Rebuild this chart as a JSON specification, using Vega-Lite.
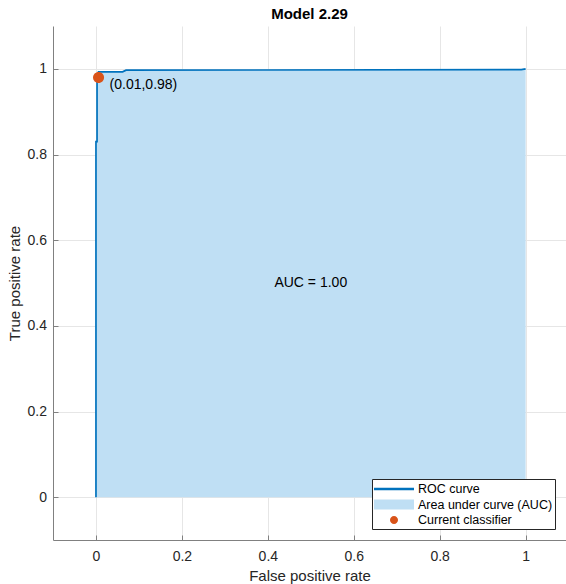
{
  "$schema": "https://vega.github.io/schema/vega-lite/v6.json",
  "autosize": "none",
  "padding": {"left": 53, "top": 26, "right": 0, "bottom": 44},
  "width": 513,
  "height": 514,
  "background": "white",
  "title": {"text": "Model 2.29", "font": "Liberation Sans", "fontSize": 15, "fontWeight": "bold", "color": "#000000", "offset": 4, "anchor": "middle"},
  "datasets": {
    "roc": [
      {"fpr": 0, "tpr": 0},
      {"fpr": 0, "tpr": 0.83},
      {"fpr": 0.0025, "tpr": 0.83},
      {"fpr": 0.0025, "tpr": 0.975},
      {"fpr": 0.006, "tpr": 0.98},
      {"fpr": 0.006, "tpr": 0.993},
      {"fpr": 0.062, "tpr": 0.993},
      {"fpr": 0.07, "tpr": 0.997},
      {"fpr": 0.99, "tpr": 0.998},
      {"fpr": 1, "tpr": 1}
    ],
    "classifier": [
      {"fpr": 0.006, "tpr": 0.98, "label": "(0.01,0.98)", "series": "Current classifier"}
    ],
    "auc": [
      {"fpr": 0.5, "tpr": 0.5, "label": "AUC = 1.00"}
    ]
  },
  "layer": [
    {
      "data": {"name": "roc"},
      "mark": {"type": "area", "color": "#BFDFF4", "opacity": 1, "interpolate": "linear"},
      "encoding": {
        "x": {"field": "fpr", "type": "quantitative", "scale": {"domain": [-0.1, 1.094], "nice": false, "zero": false},
          "axis": {"title": "False positive rate", "values": [0, 0.2, 0.4, 0.6, 0.8, 1], "format": "~g", "labelPadding": 14, "titlePadding": 5}},
        "y": {"field": "tpr", "type": "quantitative", "scale": {"domain": [-0.1, 1.1], "nice": false, "zero": false},
          "axis": {"title": "True positive rate", "values": [0, 0.2, 0.4, 0.6, 0.8, 1], "format": "~g", "labelPadding": 11.5, "titlePadding": 5}},
        "y2": {"datum": 0}
      }
    },
    {
      "data": {"name": "roc"},
      "mark": {"type": "line", "color": "#0072BD", "strokeWidth": 1.7, "interpolate": "linear"},
      "encoding": {
        "x": {"field": "fpr", "type": "quantitative"},
        "y": {"field": "tpr", "type": "quantitative"}
      }
    },
    {
      "data": {"name": "classifier"},
      "mark": {"type": "point", "filled": true, "opacity": 1, "size": 484, "strokeWidth": 0},
      "encoding": {
        "x": {"field": "fpr", "type": "quantitative"},
        "y": {"field": "tpr", "type": "quantitative"},
        "color": {"field": "series", "type": "nominal",
          "scale": {"domain": ["ROC curve", "Area under curve (AUC)", "Current classifier"], "range": ["#0072BD", "#BFDFF4", "#D95319"]},
          "legend": {"title": null}},
        "shape": {"field": "series", "type": "nominal",
          "scale": {"domain": ["ROC curve", "Area under curve (AUC)", "Current classifier"], "range": ["M-2.5,-0.16H2.5V0.16H-2.5Z", "M-2.5,-0.625H2.5V0.625H-2.5Z", "M0.5,0A0.5,0.5 0 1,1 -0.5,0A0.5,0.5 0 1,1 0.5,0Z"]},
          "legend": {"title": null}}
      }
    },
    {
      "data": {"name": "classifier"},
      "mark": {"type": "text", "align": "left", "baseline": "middle", "dx": 11, "dy": 8, "font": "Liberation Sans", "fontSize": 14, "color": "#000000"},
      "encoding": {
        "x": {"field": "fpr", "type": "quantitative"},
        "y": {"field": "tpr", "type": "quantitative"},
        "text": {"field": "label"}
      }
    },
    {
      "data": {"name": "auc"},
      "mark": {"type": "text", "align": "center", "baseline": "middle", "font": "Liberation Sans", "fontSize": 14, "color": "#000000"},
      "encoding": {
        "x": {"field": "fpr", "type": "quantitative"},
        "y": {"field": "tpr", "type": "quantitative"},
        "text": {"field": "label"}
      }
    }
  ],
  "config": {
    "view": {"stroke": null},
    "axis": {
      "grid": true,
      "gridColor": "#e6e6e6",
      "gridWidth": 1,
      "domainColor": "#808080",
      "domainWidth": 1,
      "tickColor": "#808080",
      "tickSize": -5,
      "labelFont": "Liberation Sans",
      "labelFontSize": 14,
      "labelColor": "#262626",
      "titleFont": "Liberation Sans",
      "titleFontSize": 15,
      "titleFontWeight": "normal",
      "titleColor": "#262626"
    },
    "legend": {
      "orient": "bottom-right",
      "offset": 11,
      "padding": 2,
      "strokeColor": "#262626",
      "fillColor": "white",
      "symbolSize": 256,
      "symbolStrokeWidth": 0,
      "labelFont": "Liberation Sans",
      "labelFontSize": 12.5,
      "labelColor": "#000000",
      "rowPadding": 0.5,
      "symbolOffset": 12,
      "labelOffset": 16
    }
  }
}
